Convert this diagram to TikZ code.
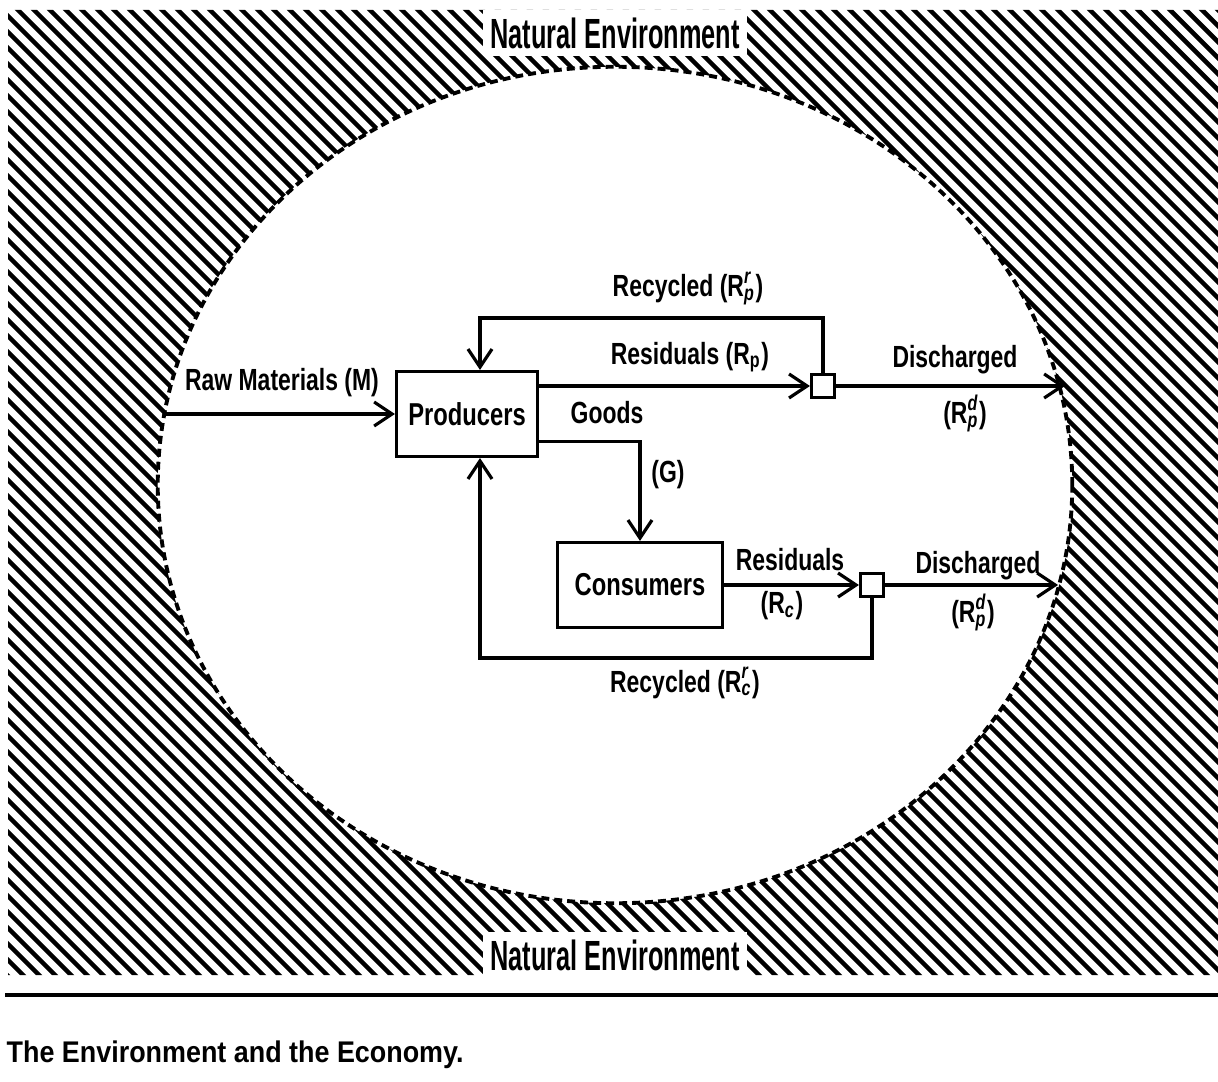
\documentclass[tikz,border=0pt]{standalone}
\usepackage{fontspec}
\setmainfont{Liberation Sans}
\newfontfamily\diagfont{Liberation Sans}[FakeStretch=0.75]
\newfontfamily\envfont{Liberation Sans}[FakeStretch=0.6]
\newfontfamily\capfont{Liberation Sans}[FakeStretch=0.9]
\usepackage{tikz}
\usetikzlibrary{positioning, arrows.meta, calc}
\newcommand{\Rflow}[2]{R\rlap{\textsuperscript{\itshape #1}}\textsubscript{\itshape #2}}
\tikzset{
    box/.style={
        rectangle,
        draw,
        line width=0.9pt,
        fill=white,
        minimum height=0.85cm,
        align=center,
        font=\diagfont\bfseries\fontsize{9}{10}\selectfont
    },
    joint/.style={
        rectangle,
        draw,
        line width=0.9pt,
        fill=white,
        minimum size=0.23cm,
        inner sep=0pt
    },
    arrow/.style={
        -{Straight Barb[length=1.8mm,width=2.4mm]},
        line width=0.9pt
    },
    lbl/.style={
        inner sep=1pt,
        align=center,
        font=\diagfont\bfseries\fontsize{8.7}{10}\selectfont
    },
    envlabel/.style={
        fill=white,
        inner sep=2pt,
        font=\envfont\bfseries\fontsize{12}{13}\selectfont
    },
    hatch/.style={
        line width=1.3pt
    },
    economy/.style={
        line width=1.1pt,
        dash pattern=on 0.08cm off 0.05cm
    }
}
\begin{document}
\begin{tikzpicture}[x=0.01cm, y=-0.01cm]
    \useasboundingbox (0,0) rectangle (1218,1082);

    % natural environment, hatched round the economy
    \begin{scope}[even odd rule]
        \clip (8,10) rectangle (1218,975)
            (615,485) ellipse [x radius=4.57cm, y radius=4.18cm];
        \foreach \c in {-1000,-984,...,1220}
            \draw[hatch] (\c,0) -- ++(1000,1000);
    \end{scope}
    \draw[economy] (615,485) ellipse [x radius=4.57cm, y radius=4.18cm];
    \node[envlabel] (envtop) at (615,33) {Natural Environment};
    \node[envlabel] (envbot) at (615,955) {Natural Environment};

    % economy
    \node[box, minimum width=1.39cm] (prod) at (467,414) {Producers};
    \node[box, minimum width=1.65cm] (cons) at (640,585) {Consumers};
    \node[joint] (sqp) at (823,386) {};
    \node[joint] (sqc) at (872,585) {};

    \coordinate (rawin) at (163,414);
    \coordinate (dischp) at (1065,386);
    \coordinate (dischc) at (1058,585);
    \coordinate (rectop) at (480,318);
    \coordinate (recbot) at (480,658);

    \draw[arrow] (rawin) -- (prod.west);
    \draw[arrow] (prod.east |- sqp) -- (sqp.west);
    \draw[arrow] (sqp.east) -- (dischp);
    \draw[arrow] (sqp.north) |- (rectop) -- (rectop |- prod.north);
    \draw[arrow] ([yshift=0.17cm]prod.south east) -| (cons.north);
    \draw[arrow] (cons.east) -- (sqc.west);
    \draw[arrow] (sqc.east) -- (dischc);
    \draw[arrow] (sqc.south) |- (recbot) -- (recbot |- prod.south);

    % labels
    \node[lbl] (lraw) at (282,383) {Raw Materials (M)};
    \node[lbl] (lrecp) at (688,288) {Recycled (\Rflow{r}{p})};
    \node[lbl] (lresp) at (690,357) {Residuals (R\textsubscript{p})};
    \node[lbl] (ldisp) at (955,360) {Discharged};
    \node[lbl] (ldispb) at (965,413) {(\Rflow{d}{p})};
    \node[lbl] (lgoods) at (607,413) {Goods};
    \node[lbl] (lg) at (668,475) {(G)};
    \node[lbl] (lresc) at (790,560) {Residuals};
    \node[lbl] (lrescb) at (782,606) {(R\textsubscript{\itshape c})};
    \node[lbl] (ldisc) at (978,566) {Discharged};
    \node[lbl] (ldiscb) at (973,612) {(\Rflow{d}{p})};
    \node[lbl] (lrecc) at (685,683) {Recycled (\Rflow{r}{c})};

    \draw[line width=1.2pt] (5,995) -- (1218,995);
    \node[anchor=west, inner sep=0pt, font=\capfont\bfseries\fontsize{8.5}{10}\selectfont] (caption) at (6,1055) {The Environment and the Economy.};
\end{tikzpicture}
\end{document}
